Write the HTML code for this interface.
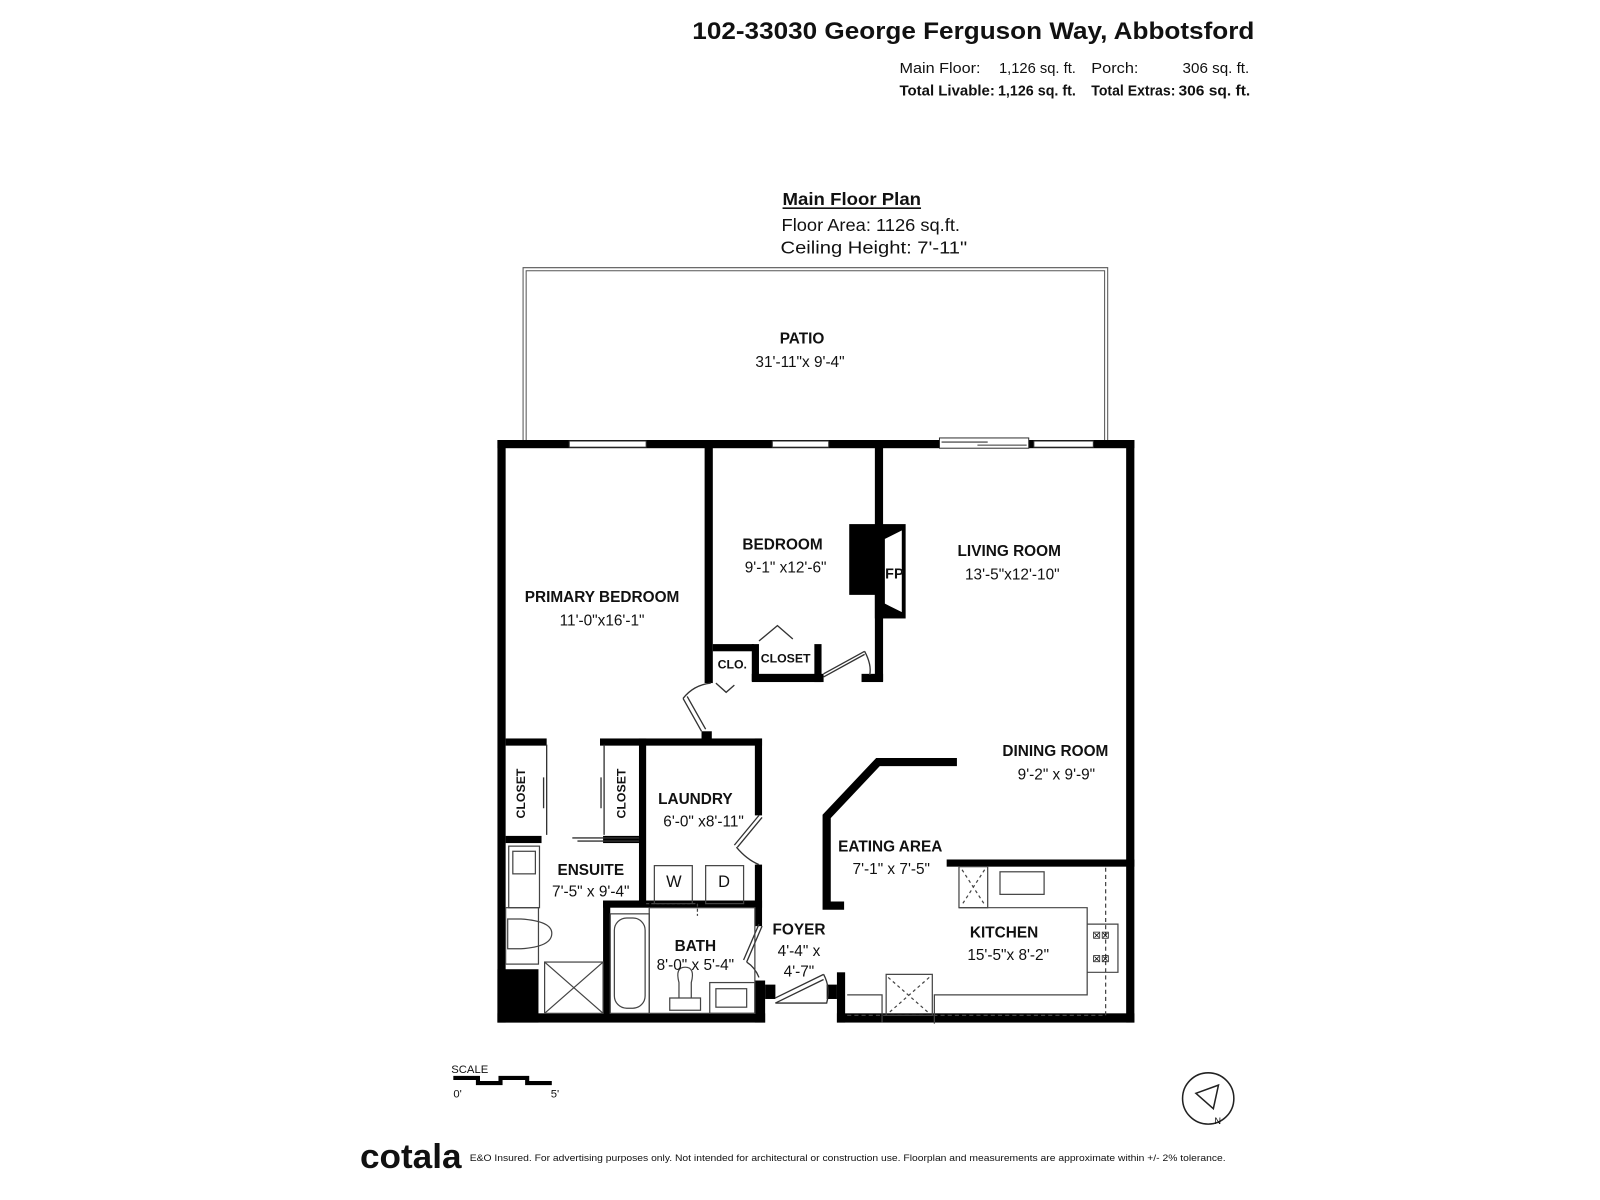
<!DOCTYPE html>
<html><head><meta charset="utf-8"><style>
html,body{margin:0;padding:0;background:#fff;}
svg{display:block;}
text{font-family:"Liberation Sans",sans-serif;fill:#111;}
.b{font-weight:bold;}
</style></head><body>
<svg width="1600" height="1200" viewBox="2 2 1560 1170" xmlns="http://www.w3.org/2000/svg">
<rect x="0" y="0" width="1600" height="1200" fill="#fff"/>
<!-- header -->
<text x="677" y="40" class="b" font-size="23" textLength="548" lengthAdjust="spacingAndGlyphs">102-33030 George Ferguson Way, Abbotsford</text>
<text x="879" y="73" font-size="14" textLength="79" lengthAdjust="spacingAndGlyphs">Main Floor:</text>
<text x="976" y="73" font-size="14" textLength="75" lengthAdjust="spacingAndGlyphs">1,126 sq. ft.</text>
<text x="1066" y="73" font-size="14" textLength="46" lengthAdjust="spacingAndGlyphs">Porch:</text>
<text x="1155" y="73" font-size="14" textLength="65" lengthAdjust="spacingAndGlyphs">306 sq. ft.</text>
<text x="879" y="95" font-size="14" class="b" textLength="93" lengthAdjust="spacingAndGlyphs">Total Livable:</text>
<text x="975" y="95" font-size="14" class="b" textLength="76" lengthAdjust="spacingAndGlyphs">1,126 sq. ft.</text>
<text x="1066" y="95" font-size="14" class="b" textLength="82" lengthAdjust="spacingAndGlyphs">Total Extras:</text>
<text x="1151" y="95" font-size="14" class="b" textLength="70" lengthAdjust="spacingAndGlyphs">306 sq. ft.</text>
<text x="765" y="202" font-size="17" class="b" textLength="135" lengthAdjust="spacingAndGlyphs">Main Floor Plan</text>
<line x1="765" y1="205" x2="900" y2="205" stroke="#111" stroke-width="1.5"/>
<text x="764" y="227" font-size="17" textLength="174" lengthAdjust="spacingAndGlyphs">Floor Area: 1126 sq.ft.</text>
<text x="763" y="249" font-size="17" textLength="182" lengthAdjust="spacingAndGlyphs">Ceiling Height: 7'-11"</text>
<!-- patio -->
<path d="M512 432 V263 H1082 V432" fill="none" stroke="#555" stroke-width="1"/>
<path d="M515 432 V266 H1079 V432" fill="none" stroke="#555" stroke-width="1"/>
<text x="784" y="337" font-size="15" class="b" text-anchor="middle">PATIO</text>
<text x="782" y="360" font-size="15" text-anchor="middle">31'-11"x 9'-4"</text>
<!-- walls -->
<g fill="#000">
<rect x="487" y="431" width="621" height="8"/>
<rect x="487" y="431" width="8" height="568"/>
<rect x="1100" y="431" width="8" height="568"/>
<rect x="487" y="990" width="261" height="9"/>
<rect x="818" y="990" width="290" height="9"/>
<rect x="818" y="950" width="8" height="49"/>
<rect x="738" y="958" width="10" height="41"/>
<rect x="748" y="962" width="10" height="14"/>
<rect x="808" y="962" width="10" height="14"/>
<rect x="689" y="431" width="8" height="237"/>
<rect x="855" y="431" width="8" height="235"/>
<rect x="830" y="513" width="28" height="69"/>
<rect x="855" y="513" width="30" height="92"/>
<rect x="697" y="630" width="40" height="7"/>
<rect x="735" y="630" width="7" height="36"/>
<rect x="735" y="659" width="70" height="8"/>
<rect x="796" y="630" width="7" height="37"/>
<rect x="842" y="659" width="21" height="8"/>
<rect x="686" y="715" width="10" height="10"/>
<rect x="495" y="722" width="40" height="7"/>
<rect x="587" y="722" width="158" height="7"/>
<rect x="625" y="722" width="7" height="163"/>
<rect x="738" y="722" width="7" height="75"/>
<rect x="738" y="845" width="7" height="60"/>
<rect x="495" y="817" width="35" height="7"/>
<rect x="590" y="817" width="35" height="7"/>
<rect x="590" y="880" width="155" height="7"/>
<rect x="590" y="880" width="7" height="115"/>
<rect x="487" y="947" width="40" height="52"/>
<rect x="925" y="840" width="183" height="7"/>
</g>
<path d="M935 745 H858 L808 798 V885 H825" fill="none" stroke="#000" stroke-width="8"/>
<!-- windows -->
<g fill="#fff" stroke="#333" stroke-width="1">
<rect x="557" y="432" width="75" height="6"/>
<rect x="755" y="432" width="55" height="6"/>
<rect x="918" y="429" width="87" height="10"/>
<rect x="1010" y="432" width="58" height="6"/>
</g>
<line x1="920" y1="433" x2="965" y2="433" stroke="#333"/>
<line x1="955" y1="436" x2="1003" y2="436" stroke="#333"/>
<!-- FP -->
<path d="M882 518 L864 527 V591 L882 600 Z" fill="#fff" stroke="#000" stroke-width="1.5"/>
<text x="874" y="566" font-size="14" class="b" text-anchor="middle">FP</text>
<!-- doors -->
<g fill="none" stroke="#333" stroke-width="1.3">
<path d="M686 715 L668 683 M690 713 L672 681"/>
<path d="M668 683 Q678 670 695 668"/>
<path d="M805 659 L845 637 M805 662 L845 640"/>
<path d="M845 637 Q852 650 850 660"/>
<path d="M742 627 L760 612 L775 625"/>
<path d="M700 668 L710 677 L718 670"/>
<path d="M742 797 L718 826 M745 799 L721 828"/>
<path d="M720 828 Q730 840 742 845"/>
<path d="M745 905 L730 940 M742 903 L727 938"/>
<path d="M730 940 Q738 945 742 955"/>
<path d="M758 975 L805 952 M758 980 L805 957"/>
<path d="M805 952 Q812 965 808 980 L758 980"/>
<path d="M535 728 V816 M591 728 V816"/>
<path d="M532 760 V790 M588 760 V790"/>
<path d="M560 819 H625 M565 822 H625"/>
</g>
<!-- fixtures -->
<g fill="none" stroke="#444" stroke-width="1.2">
<rect x="498" y="827" width="30" height="60"/><rect x="502" y="832" width="22" height="22"/>
<path d="M497 898 H510 Q540 900 540 912 Q540 925 510 927 H497 Z"/>
<rect x="495" y="887" width="32" height="55"/>
<rect x="533" y="940" width="57" height="50"/><path d="M533 940 L590 990 M590 940 L533 990"/>
<rect x="597" y="893" width="38" height="97"/><rect x="601" y="897" width="30" height="88" rx="12"/>
<rect x="635" y="887" width="103" height="103"/>
<path d="M664 975 V960 Q660 945 670 945 Q680 945 676 960 V975 M655 975 H685 V987 H655 Z"/>
<rect x="694" y="960" width="44" height="30"/><rect x="700" y="966" width="30" height="18"/>
<rect x="640" y="846" width="37" height="37"/><rect x="690" y="846" width="37" height="37"/>
<path d="M632 883 H682 V895" stroke-dasharray="3 2"/>
<rect x="937" y="847" width="28" height="40"/>
<rect x="977" y="852" width="43" height="22"/>
<path d="M937 887 H1062 V972 H913 V1000 M828 972 H862 V999"/>
<path d="M1062 903 H1092 V950 H1062"/>
<path d="M828 992 H1080 V847" stroke-dasharray="4 3"/>
<rect x="866" y="952" width="45" height="40"/>
<path d="M940 850 L962 884 M962 850 L940 884 M868 955 L908 990 M908 955 L868 990" stroke-dasharray="3 3"/>
</g>
<g font-size="10" fill="#444"><text x="1067" y="917">⊠⊠</text><text x="1067" y="940">⊠⊠</text></g>
<!-- labels -->
<g font-size="15" text-anchor="middle">
<text x="589" y="589" class="b">PRIMARY BEDROOM</text><text x="589" y="612">11'-0"x16'-1"</text>
<text x="765" y="538" class="b">BEDROOM</text><text x="768" y="560">9'-1" x12'-6"</text>
<text x="986" y="544" class="b">LIVING ROOM</text><text x="989" y="567">13'-5"x12'-10"</text>
<text x="1031" y="739" class="b">DINING ROOM</text><text x="1032" y="762">9'-2" x 9'-9"</text>
<text x="870" y="832" class="b">EATING AREA</text><text x="871" y="854">7'-1" x 7'-5"</text>
<text x="981" y="916" class="b">KITCHEN</text><text x="985" y="938">15'-5"x 8'-2"</text>
<text x="680" y="786" class="b">LAUNDRY</text><text x="688" y="808">6'-0" x8'-11"</text>
<text x="578" y="855" class="b">ENSUITE</text><text x="578" y="876">7'-5" x 9'-4"</text>
<text x="680" y="929" class="b">BATH</text><text x="680" y="948">8'-0" x 5'-4"</text>
<text x="781" y="913" class="b">FOYER</text><text x="781" y="934">4'-4" x</text><text x="781" y="954">4'-7"</text>
<text x="659" y="867" font-size="16">W</text><text x="708" y="867" font-size="16">D</text>
</g>
<text x="716" y="654" font-size="12" class="b" text-anchor="middle">CLO.</text>
<text x="768" y="648" font-size="12" class="b" text-anchor="middle">CLOSET</text>
<text transform="translate(514,800) rotate(-90)" font-size="12" class="b">CLOSET</text>
<text transform="translate(612,800) rotate(-90)" font-size="12" class="b">CLOSET</text>
<!-- scale -->
<text x="442" y="1048" font-size="11">SCALE</text>
<path d="M444 1053 H468 V1058 H490 V1053 H516 V1058 H540" fill="none" stroke="#000" stroke-width="4"/>
<text x="444" y="1072" font-size="11">0'</text><text x="539" y="1072" font-size="11">5'</text>
<!-- compass -->
<circle cx="1180" cy="1073" r="25" fill="none" stroke="#222" stroke-width="1.5"/>
<path d="M1168 1068 L1190 1060 L1185 1083 Z" fill="none" stroke="#222" stroke-width="1.5"/>
<text x="1186" y="1098" font-size="9">N</text>
<!-- footer -->
<text x="353" y="1141" font-size="33" class="b" textLength="99" lengthAdjust="spacingAndGlyphs">cotala</text>
<text x="460" y="1134" font-size="9" textLength="737" lengthAdjust="spacingAndGlyphs">E&amp;O Insured. For advertising purposes only. Not intended for architectural or construction use. Floorplan and measurements are approximate within +/- 2% tolerance.</text>
</svg>
</body></html>
